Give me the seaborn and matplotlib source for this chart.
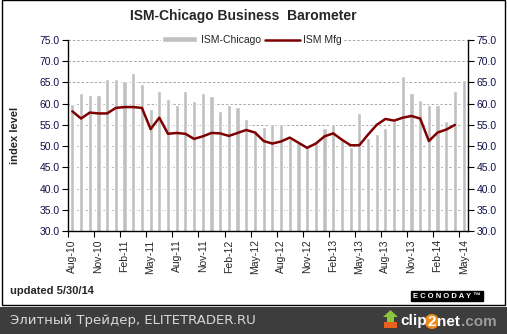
import numpy as np
import pandas as pd
import matplotlib
matplotlib.use("Agg")
import matplotlib.pyplot as plt
import matplotlib.patches as mpatches
import seaborn as sns

# Monthly categories, Aug-10 .. May-14
months = pd.date_range("2010-08-01", periods=46, freq="MS").strftime("%b-%y").tolist()

# ISM-Chicago business barometer (bars)
ism_chicago = [60.0, 62.6, 62.1, 62.1, 65.8, 65.8, 65.4, 67.3, 64.7, 58.8,
               63.1, 61.0, 59.8, 63.1, 60.7, 62.6, 61.7, 58.2, 59.8, 59.3,
               56.5, 53.7, 54.5, 55.1, 55.1, 51.6, 50.8, 49.8, 50.8, 54.2,
               55.1, 51.5, 49.7, 57.9, 52.0, 52.9, 54.2, 56.0, 66.6, 62.6,
               60.9, 59.8, 59.8, 55.9, 63.0, 65.5]

# ISM manufacturing index (line, through Apr-14)
ism_mfg = [58.2, 56.5, 57.9, 57.7, 57.7, 59.0, 59.2, 59.2, 59.0, 54.0,
           56.7, 52.9, 53.1, 52.9, 51.7, 52.3, 53.1, 53.0, 52.4, 53.1,
           53.8, 53.2, 51.2, 50.6, 51.1, 52.0, 50.8, 49.6, 50.6, 52.3,
           53.0, 51.5, 50.2, 50.2, 52.7, 55.0, 56.4, 56.0, 56.7, 57.1,
           56.5, 51.2, 53.2, 53.9, 55.0]

y_ticks = [30, 35, 40, 45, 50, 55, 60, 65, 70, 75]

sns.set_style("white")
plt.rcParams["font.family"] = ["Liberation Sans", "DejaVu Sans"]

W, H = 507, 334
fig = plt.figure(figsize=(W / 100, H / 100), dpi=100)
ax = fig.add_axes([68 / W, 1 - 231 / H, 400 / W, 191 / H])

bars_df = pd.DataFrame({"month": months, "value": ism_chicago})
sns.barplot(data=bars_df, x="month", y="value", order=months, color="#c0c0c0",
            saturation=1, width=0.48, ax=ax, label="ISM-Chicago", zorder=2)

line_df = pd.DataFrame({"pos": np.arange(len(ism_mfg)), "value": ism_mfg})
sns.lineplot(data=line_df, x="pos", y="value", color="#7f0000", lw=1.8,
             ax=ax, label="ISM Mfg", zorder=3)

ax.set_xlim(-0.5, len(months) - 0.5)
ax.set_ylim(30, 75)
ax.set_xlabel("")
ax.set_ylabel("index level", fontsize=8, fontweight="bold", labelpad=14)

# y axis on both sides
ax.set_yticks(y_ticks)
ax.set_yticklabels([f"{v:.1f}" for v in y_ticks])
ax.tick_params(axis="y", which="both", left=True, right=True, labelleft=True,
               labelright=True, direction="out", length=4, width=0.8,
               labelsize=7.5, labelcolor="#10104a", pad=2, color="black")
ax.yaxis.grid(True, color="#a8a8a8", linestyle=(0, (2.5, 2)), linewidth=0.7)
ax.set_axisbelow(True)

# x axis: labels every quarter, tick marks on category boundaries
label_pos = np.arange(0, len(months), 3)
ax.set_xticks(label_pos)
ax.set_xticklabels([months[i] for i in label_pos], rotation=90, fontsize=7.5)
ax.set_xticks(np.arange(-0.5, len(months), 3), minor=True)
ax.tick_params(axis="x", which="major", length=0, pad=6)
ax.tick_params(axis="x", which="minor", bottom=True, direction="out",
               length=4, width=0.8, color="black")

for side in ["left", "right", "bottom"]:
    ax.spines[side].set_visible(True)
    ax.spines[side].set_color("black")
    ax.spines[side].set_linewidth(1.0)
ax.spines["top"].set_visible(False)

# legend: bars first, then the line
handles, labels = ax.get_legend_handles_labels()
order = [labels.index("ISM-Chicago"), labels.index("ISM Mfg")]
leg = ax.legend([handles[i] for i in order], [labels[i] for i in order],
                loc="center", bbox_to_anchor=(0.46, 1.0), ncol=2, fontsize=7.5,
                frameon=True, framealpha=1, facecolor="white", edgecolor="white",
                handlelength=3.4, handleheight=0.5, handletextpad=0.3,
                columnspacing=0.4, borderpad=0.1, borderaxespad=0)
leg.set_zorder(5)

fig.text(243 / W, 1 - 16 / H, "ISM-Chicago Business  Barometer", ha="center",
         va="center", fontsize=10, fontweight="bold")
fig.text(10 / W, 1 - 291 / H, "updated 5/30/14", ha="left", va="center",
         fontsize=8, fontweight="bold")
fig.text(447 / W, 1 - 296 / H, "E C O N O D A Y \u2122", ha="center", va="center",
         fontsize=5.5, fontweight="bold", color="white",
         bbox=dict(boxstyle="square,pad=0.25", fc="black", ec="black"))

# chart frame
fig.add_artist(mpatches.Rectangle((1.5 / W, 1 - 305 / H), 503.5 / W, 305 / H,
                                  transform=fig.transFigure, fill=False,
                                  edgecolor="black", linewidth=1))

# bottom caption band
fig.add_artist(mpatches.Rectangle((0, 0), 1, 27 / H, transform=fig.transFigure,
                                  facecolor="#3d3d3d", edgecolor="none",
                                  zorder=0))
fig.text(10 / W, 13.5 / H, "Элитный Трейдер, ELITETRADER.RU", ha="left",
         va="center", fontsize=9.5, color="#d8d8d8", family="DejaVu Sans")

# clip2net mark: icon, then the word laid out piece by piece
fig.add_artist(mpatches.Rectangle((384 / W, 6 / H), 13 / W, 6 / H,
                                  transform=fig.transFigure,
                                  facecolor="#e8601c", edgecolor="none",
                                  zorder=2))
fig.add_artist(mpatches.Polygon([(387 / W, 12 / H), (394 / W, 12 / H),
                                 (394 / W, 17 / H), (398 / W, 17 / H),
                                 (390.5 / W, 24 / H), (383 / W, 17 / H),
                                 (387 / W, 17 / H)],
                                closed=True, transform=fig.transFigure,
                                facecolor="#8cc63f", edgecolor="none",
                                zorder=2))
renderer = fig.canvas.get_renderer()
x_px = 400.0
pieces = [("clip", "white", False), ("2", "white", True),
          ("net", "white", False), (".com", "#9a9a9a", False)]
for s, col, circled in pieces:
    t = fig.text(x_px / W, 12.5 / H, s, ha="left", va="center", fontsize=11,
                 fontweight="bold", color=col, zorder=4)
    w = t.get_window_extent(renderer).width
    if circled:
        fig.add_artist(mpatches.Ellipse(((x_px + w / 2) / W, 12.5 / H),
                                        (w + 6) / W, 15 / H,
                                        transform=fig.transFigure,
                                        facecolor="#f08a1c", edgecolor="none",
                                        zorder=3))
    x_px += w + 1

fig.savefig("out.png", dpi=100)
